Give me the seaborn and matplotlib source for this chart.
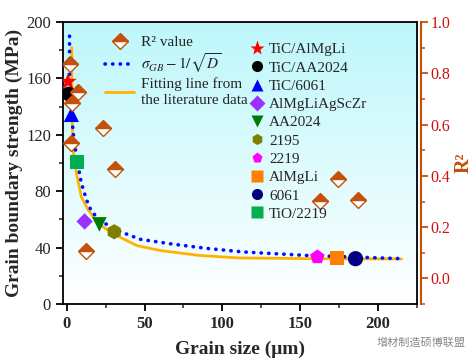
import numpy as np
import matplotlib
matplotlib.use("Agg")
import matplotlib.pyplot as plt
from matplotlib.lines import Line2D
from matplotlib.colors import LinearSegmentedColormap
import seaborn as sns

# measured alloys: grain size (um) and grain boundary strength (MPa)
alloys = ["TiC/AlMgLi", "TiC/AA2024", "TiC/6061", "AlMgLiAgScZr", "AA2024",
          "2195", "2219", "AlMgLi", "6061", "TiO/2219"]
grain_size = [0.8, 1.3, 3.0, 11.5, 21.0, 30.5, 161.0, 173.5, 185.5, 6.5]
gb_strength = [157.7, 149.0, 134.5, 58.6, 56.5, 51.3, 33.4, 32.7, 32.2, 101.0]

# R2 values of the fits (right axis)
r2_size = [2.0, 7.0, 3.3, 23.0, 2.8, 30.9, 12.2, 174.0, 163.0, 187.0]
r2_value = [0.838, 0.728, 0.685, 0.588, 0.527, 0.427, 0.106, 0.386, 0.302, 0.305]

# sigma_GB - 1/sqrt(D) curve
hp_size = [1.8, 1.8, 1.9, 2.5, 3.5, 4.2, 6.2, 9.4, 12.7, 15.9, 22.3, 33, 47, 68, 90, 113, 154, 216]
hp_strength = [190, 175, 160, 145, 130, 121, 104.6, 85.8, 74, 65.7, 58.6, 52, 46, 42.5, 39.5, 37, 34.5, 32.2]

# fitting line from the literature data
lit_size = [3.2, 3.3, 3.6, 4.2, 6.2, 9.4, 13.7, 20, 27, 35, 45, 60, 85, 111, 160, 215]
lit_strength = [182, 150, 125, 109, 93, 76, 67, 57.5, 52, 47, 41.5, 38, 34.5, 32.7, 32.2, 32]

# styles
markers = ["*", "o", "^", "D", "v", "h", "p", "s", "o", "s"]
colors = ["#ff0000", "#000000", "#0000ff", "#9b30ff", "#007a00",
          "#7f7f00", "#ff00ff", "#ff8000", "#000080", "#00b050"]
msizes = [180, 110, 120, 70, 110, 120, 120, 100, 120, 100]
brown = "#c4500a"
dots = (0, (0.1, 2.0))

sns.set_theme(style="ticks")
plt.rcParams["font.family"] = ["Liberation Serif", "DejaVu Serif"]
plt.rcParams["mathtext.fontset"] = "stix"
plt.rcParams["axes.linewidth"] = 1.3

fig = plt.figure(figsize=(4.76, 3.62), dpi=100)
ax = fig.add_axes([0.132, 0.160, 0.744, 0.779])
ax2 = ax.twinx()

xlim = (-2.5, 225)
ylim = (0, 200)

# light cyan -> white background
cmap = LinearSegmentedColormap.from_list("bg", ["#ffffff", "#bdf7fb"])
ax.imshow(np.linspace(0, 1, 256).reshape(-1, 1), extent=[*xlim, *ylim],
          origin="lower", aspect="auto", cmap=cmap, zorder=0)

sns.lineplot(x=lit_size, y=lit_strength, sort=False, estimator=None, ax=ax,
             color="#ffb300", lw=2.0, zorder=2)
sns.lineplot(x=hp_size, y=hp_strength, sort=False, estimator=None, ax=ax,
             color="#0010ff", lw=2.6, linestyle=dots, dash_capstyle="round", zorder=3)

for gx, gy, m, c, s in zip(grain_size, gb_strength, markers, colors, msizes):
    sns.scatterplot(x=[gx], y=[gy], marker=m, color=c, s=s, edgecolor="none",
                    ax=ax, zorder=4, legend=False)

ax2.plot(r2_size, r2_value, ls="none", marker="D", ms=8, fillstyle="top",
         markerfacecolor=brown, markerfacecoloralt="white",
         markeredgecolor=brown, markeredgewidth=1.0, zorder=5)

ax.set_xlim(*xlim)
ax.set_ylim(*ylim)
ax2.set_ylim(-0.1, 1.0)

ax.set_xticks([0, 50, 100, 150, 200])
ax.set_xticks([25, 75, 125, 175, 225], minor=True)
ax.set_yticks(np.arange(0, 201, 40))
ax.set_yticks(np.arange(20, 200, 40), minor=True)
ax2.set_yticks([0.0, 0.2, 0.4, 0.6, 0.8, 1.0])
ax2.set_yticks([-0.1, 0.1, 0.3, 0.5, 0.7, 0.9], minor=True)
ax2.set_yticklabels(["0.0", "0.2", "0.4", "0.6", "0.8", "1.0"])

ax.tick_params(axis="both", which="major", direction="out", length=5, width=1.3,
               labelsize=12, color="black")
ax.tick_params(axis="both", which="minor", direction="out", length=3, width=1.1)
for lab in ax.get_xticklabels():
    lab.set_fontweight("bold")
ax2.tick_params(axis="y", which="major", direction="out", length=5, width=1.3, pad=2,
                labelsize=11.5, color=brown, labelcolor="#d01010")
ax2.tick_params(axis="y", which="minor", direction="out", length=3, width=1.1, color=brown)
ax2.spines["right"].set_position(("outward", 3))
ax2.spines["right"].set_color(brown)
ax2.spines["right"].set_linewidth(1.5)
for side in ["left", "top", "bottom"]:
    ax2.spines[side].set_visible(False)
for side in ["left", "top", "bottom", "right"]:
    ax.spines[side].set_visible(True)
    ax.spines[side].set_color("black")

ax.set_xlabel("Grain size (\u03bcm)", fontsize=14, fontweight="bold", labelpad=6)
ax.set_ylabel("Grain boundary strength (MPa)", fontsize=14, fontweight="bold", labelpad=2)
ax2.set_ylabel("R\u00b2", fontsize=14.5, fontweight="bold", color=brown, labelpad=2)

# left legend: R2 and fitting curves
h1 = [
    Line2D([], [], ls="none", marker="D", ms=8, fillstyle="top",
           markerfacecolor=brown, markerfacecoloralt="white",
           markeredgecolor=brown, markeredgewidth=1.0),
    Line2D([], [], color="#0010ff", lw=2.6, ls=dots, dash_capstyle="round"),
    Line2D([], [], color="#ffb300", lw=2.0),
]
l1 = ["R\u00b2 value", r"$\sigma_{GB}-1/\sqrt{D}$", "Fitting line from\nthe literature data"]
leg1 = ax2.legend(h1, l1, loc="upper left", bbox_to_anchor=(0.09, 0.99),
                  frameon=False, fontsize=11, handlelength=1.9,
                  labelspacing=0.15, borderpad=0.2, handletextpad=0.4)
for t in leg1.get_texts():
    t.set_linespacing(1.3)
ax2.add_artist(leg1)

# right legend: alloys
h2 = [Line2D([], [], ls="none", marker=m, color=c, ms=8 if m != "*" else 11,
             markeredgecolor="none")
      for m, c in zip(markers, colors)]
ax2.legend(h2, alloys, loc="upper left", bbox_to_anchor=(0.50, 0.965),
           frameon=False, fontsize=11, handlelength=0.8,
           labelspacing=0.3, borderpad=0.2, handletextpad=0.4)

fig.text(0.79, 0.045, "\u589e\u6750\u5236\u9020\u7855\u535a\u8054\u76df",
         fontsize=8, color="#888888", family=["Noto Sans CJK SC", "DejaVu Sans"])

fig.savefig("out.png", dpi=100)
